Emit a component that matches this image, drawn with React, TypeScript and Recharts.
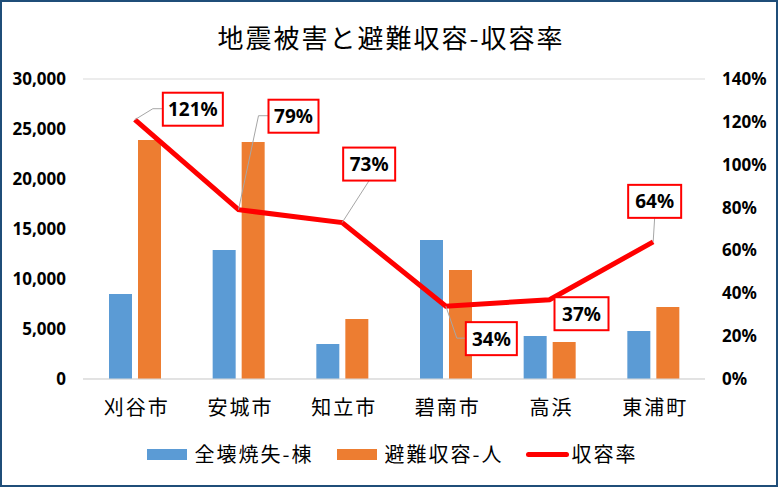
import React from 'react';
import { ComposedChart, Bar, Line, XAxis, YAxis, CartesianGrid, Legend, LabelList } from 'recharts';

const cities = ['刈谷市', '安城市', '知立市', '碧南市', '高浜', '東浦町'];
const destroyed = [8500, 12900, 3500, 13900, 4300, 4800];
const evacuees = [23900, 23700, 6000, 10900, 3700, 7200];
const rate = [1.21, 0.79, 0.73, 0.34, 0.37, 0.64];

const leftTicks = [0, 5000, 10000, 15000, 20000, 25000, 30000];
const rightTicks = [0, 0.2, 0.4, 0.6, 0.8, 1.0, 1.2, 1.4];

// callout placement for each rate label: box centre relative to the point, box width, leader bend
const callouts = [
  { dx: 58, dy: -10.5, w: 60, bend: [18, -11] },
  { dx: 55, dy: -93.5, w: 50, bend: [20, -94] },
  { dx: 27, dy: -58.5, w: 52, bend: null },
  { dx: 45.5, dy: 32.5, w: 51, bend: [11, 32] },
  { dx: 32, dy: 14, w: 54, bend: null },
  { dx: 1.5, dy: -40.5, w: 53, bend: null },
];

const data = cities.map((name, i) => ({
  name,
  destroyed: destroyed[i],
  evacuees: evacuees[i],
  rate: rate[i],
}));

const FONT = "'Noto Sans', 'Noto Sans CJK JP', sans-serif";
const CJK = "'Noto Sans CJK JP', sans-serif";

const RateLabel = (props: any) => {
  const { x, y, index, value } = props;
  const c = callouts[index];
  const h = 33;
  const bx = x + c.dx - c.w / 2;
  const by = y + c.dy - h / 2;
  let leader: string | null = null;
  if (c.bend) {
    const ex = c.dx > 0 ? bx : bx + c.w;
    leader = `M${x},${y} L${x + c.bend[0]},${y + c.bend[1]} L${ex},${y + c.bend[1]}`;
  } else if (index === 2 || index === 5) {
    leader = `M${x},${y} L${x + c.dx},${by + h}`;
  }
  return (
    <g>
      {leader && <path d={leader} stroke="#A6A6A6" strokeWidth={1} fill="none" />}
      <rect x={bx} y={by} width={c.w} height={h} fill="#fff" stroke="#FF0000" strokeWidth={2} />
      <text
        x={bx + c.w / 2}
        y={by + h / 2}
        textAnchor="middle"
        dominantBaseline="central"
        fontFamily={FONT}
        fontWeight="bold"
        fontSize={19}
        fill="#000"
      >
        {`${Math.round(value * 100)}%`}
      </text>
    </g>
  );
};

const CityTick = ({ x, y, payload }: any) => (
  <text
    x={x + 2}
    y={y + 28}
    textAnchor="middle"
    fontFamily={CJK}
    fontSize={20}
    letterSpacing={2}
    fill="#000"
  >
    {payload.value}
  </text>
);

const legendItems = [
  { label: '全壊焼失-棟', color: '#5B9BD5', kind: 'box' },
  { label: '避難収容-人', color: '#ED7D31', kind: 'box' },
  { label: '収容率', color: '#FF0000', kind: 'line' },
];

const renderLegend = () => (
  <div style={{ display: 'flex', justifyContent: 'center', alignItems: 'center', height: 14, paddingLeft: 6 }}>
    {legendItems.map((it, i) => (
      <div key={it.label} style={{ display: 'flex', alignItems: 'center', marginRight: i < legendItems.length - 1 ? 23 : 0 }}>
        {it.kind === 'box' ? (
          <div style={{ width: 40, height: 11, background: it.color, marginRight: 8 }} />
        ) : (
          <div style={{ width: 43, height: 5, borderRadius: 3, background: it.color, marginRight: 2 }} />
        )}
        <span style={{ fontFamily: CJK, fontSize: 20, letterSpacing: 2, color: '#000', lineHeight: '20px' }}>
          {it.label}
        </span>
      </div>
    ))}
  </div>
);

export default function App() {
  return (
    <div
      style={{
        position: 'absolute',
        left: 0,
        top: 0,
        width: 778,
        height: 487,
        background: '#fff',
        border: '2px solid #1F4E79',
        boxSizing: 'border-box',
        overflow: 'hidden',
      }}
    >
      <div
        style={{
          position: 'absolute',
          left: 0,
          top: 17,
          width: 778,
          textAlign: 'center',
          fontFamily: CJK,
          fontSize: 26,
          letterSpacing: 2,
          color: '#000',
          lineHeight: '36px',
        }}
      >
        地震被害と避難収容-収容率
      </div>
      <div style={{ position: 'absolute', left: -2, top: -2 }}>
        <ComposedChart
          width={778}
          height={487}
          data={data}
          margin={{ top: 79, right: 0, bottom: 0, left: 0 }}
          barGap={6}
        >
          <CartesianGrid vertical={false} stroke="#D9D9D9" strokeWidth={1} />
          <XAxis
            dataKey="name"
            axisLine={{ stroke: '#D9D9D9' }}
            tickLine={false}
            height={68}
            tick={<CityTick />}
            interval={0}
          />
          <YAxis
            yAxisId="left"
            width={83}
            domain={[0, 30000]}
            ticks={leftTicks}
            axisLine={false}
            tickLine={false}
            tickMargin={11}
            tickFormatter={(v: number) => v.toLocaleString('en-US')}
            tick={{ fontFamily: FONT, fontWeight: 'bold', fontSize: 17, fill: '#000' }}
          />
          <YAxis
            yAxisId="right"
            orientation="right"
            width={73}
            domain={[0, 1.4]}
            ticks={rightTicks}
            axisLine={false}
            tickLine={false}
            tickMargin={11}
            tickFormatter={(v: number) => `${Math.round(v * 100)}%`}
            tick={{ fontFamily: FONT, fontWeight: 'bold', fontSize: 17, fill: '#000', textAnchor: 'start' }}
          />
          <Legend verticalAlign="bottom" height={40} content={renderLegend} />
          <Bar yAxisId="left" dataKey="destroyed" name="全壊焼失-棟" fill="#5B9BD5" barSize={23} isAnimationActive={false} />
          <Bar yAxisId="left" dataKey="evacuees" name="避難収容-人" fill="#ED7D31" barSize={23} isAnimationActive={false} />
          <Line
            yAxisId="right"
            dataKey="rate"
            name="収容率"
            stroke="#FF0000"
            strokeWidth={5}
            dot={false}
            activeDot={false}
            isAnimationActive={false}
          >
            <LabelList dataKey="rate" content={<RateLabel />} />
          </Line>
        </ComposedChart>
      </div>
    </div>
  );
}
